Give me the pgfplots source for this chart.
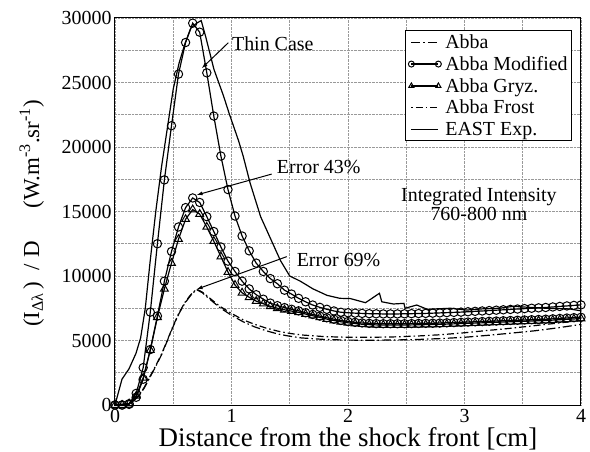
\documentclass[border=0pt]{standalone}
\usepackage{fontspec}
\setmainfont{Liberation Serif}
\usepackage{pgfplots}
\pgfplotsset{compat=1.18}
\usetikzlibrary{arrows.meta}

\begin{document}
\begin{tikzpicture}
\begin{axis}[
  scale only axis,
  width=466bp, height=387bp,
  xmin=0, xmax=4, ymin=0, ymax=30000,
  xtick={0,1,2,3,4},
  minor xtick={0.5,1.5,2.5,3.5},
  ytick={0,5000,10000,15000,20000,25000,30000},
  minor ytick={2500,7500,12500,17500,22500,27500},
  grid=both,
  major grid style={densely dotted, gray!80, line width=0.6bp},
  minor grid style={densely dotted, gray!80, line width=0.6bp},
  major tick length=0pt, minor tick length=0pt,
  axis line style={line width=1bp},
  scaled y ticks=false,
  /pgf/number format/assume math mode=true,
  /pgf/number format/1000 sep={},
  tick label style={font=\fontsize{20}{22}\selectfont},
  xticklabel style={yshift=-1bp},
  xlabel={Distance from the shock front [cm]},
  xlabel style={font=\fontsize{27}{29}\selectfont, at={(axis description cs:0.5,-0.107)}, anchor=base},
  ylabel={(I\textsubscript{Δλ}\,)\ \ /\ D\hspace{33bp}(W.m\textsuperscript{-3}.sr\textsuperscript{-1})},
  ylabel style={font=\fontsize{23}{25}\selectfont, at={(axis description cs:-0.163,0.495)}, anchor=base},
  clip=false,
  legend style={at={(axis description cs:0.981,0.969)}, anchor=north east,
    font=\fontsize{20}{21}\selectfont, draw=black, line width=1bp,
    inner sep=2bp, row sep=2.5bp, cells={anchor=west}},
  legend image code/.code={%
    \path[draw=none, fill=none] (0bp,-4bp) (36bp,4bp);
    \draw[#1] plot coordinates {(4bp,0bp) (31bp,0bp)};},
  legend image post style={mark size=3bp},
  every axis plot/.append style={line width=1.2bp},
]

% Abba
\addplot[black, dash pattern=on 9bp off 3bp on 1.5bp off 3bp] coordinates {
(0,0) (0.1,80) (0.15,250) (0.2,650) (0.25,1300) (0.3,2150) (0.35,3000) (0.4,3900)
(0.45,5000) (0.5,6100) (0.55,7100) (0.6,7900) (0.65,8500) (0.7,8950) (0.75,8700)
(0.8,8300) (0.9,7550) (1.0,6950) (1.1,6450) (1.2,6050) (1.3,5750) (1.4,5500)
(1.5,5330) (1.6,5200) (1.8,5080) (2.0,5030) (2.2,5020) (2.4,5040) (2.6,5080)
(2.8,5150) (3.0,5250) (3.2,5400) (3.4,5570) (3.6,5750) (3.8,5980) (4.0,6250)};
\addlegendentry{Abba}

% Abba Modified
\addplot[black, mark=o, mark size=4.2bp, mark options={solid, fill=white, line width=1bp}] coordinates {
(0,0) (0.061,0) (0.121,50) (0.182,600) (0.242,2000) (0.303,4300) (0.364,6900)
(0.424,9600) (0.485,11900) (0.545,13800) (0.606,15300) (0.667,16050) (0.727,15700)
(0.788,14600) (0.848,13450) (0.909,12250) (0.970,11150) (1.030,10350) (1.091,9600)
(1.152,9000) (1.212,8550) (1.273,8200) (1.333,7900) (1.394,7700) (1.455,7550)
(1.515,7420) (1.576,7300) (1.636,7150) (1.697,7020) (1.758,6890) (1.818,6760)
(1.879,6650) (1.939,6550) (2.000,6470) (2.061,6410) (2.121,6360) (2.182,6330)
(2.242,6310) (2.303,6300) (2.364,6300) (2.424,6300) (2.485,6300) (2.545,6310)
(2.606,6320) (2.667,6330) (2.727,6340) (2.788,6350) (2.848,6370) (2.909,6390)
(2.970,6410) (3.030,6430) (3.091,6450) (3.152,6470) (3.212,6490) (3.273,6510)
(3.333,6530) (3.394,6550) (3.455,6570) (3.515,6590) (3.576,6610) (3.636,6630)
(3.697,6650) (3.758,6680) (3.818,6710) (3.879,6740) (3.939,6770) (4.000,6800)};
\addlegendentry{Abba Modified}

% Abba Gryz.
\addplot[black, mark=triangle, mark size=4.5bp, mark options={solid, fill=white, line width=1bp}] coordinates {
(0,0) (0.061,0) (0.121,100) (0.182,700) (0.242,2100) (0.303,4250) (0.364,6800)
(0.424,9000) (0.485,11000) (0.545,12850) (0.606,14400) (0.667,15150) (0.727,14800)
(0.788,13800) (0.848,12700) (0.909,11500) (0.970,10300) (1.030,9300) (1.091,8700)
(1.152,8350) (1.212,8050) (1.273,7850) (1.333,7650) (1.394,7500) (1.455,7380)
(1.515,7280) (1.576,7180) (1.636,7050) (1.697,6920) (1.758,6790) (1.818,6660)
(1.879,6550) (1.939,6450) (2.000,6370) (2.061,6310) (2.121,6260) (2.182,6230)
(2.242,6210) (2.303,6200) (2.364,6200) (2.424,6200) (2.485,6200) (2.545,6210)
(2.606,6220) (2.667,6230) (2.727,6240) (2.788,6250) (2.848,6270) (2.909,6290)
(2.970,6310) (3.030,6330) (3.091,6350) (3.152,6370) (3.212,6390) (3.273,6410)
(3.333,6430) (3.394,6450) (3.455,6470) (3.515,6490) (3.576,6510) (3.636,6530)
(3.697,6550) (3.758,6580) (3.818,6610) (3.879,6640) (3.939,6670) (4.000,6700)};
\addlegendentry{Abba Gryz.}

% Abba Frost
\addplot[black, dash pattern=on 1.5bp off 3bp on 7bp off 3bp] coordinates {
(0,0) (0.1,100) (0.15,280) (0.2,700) (0.25,1350) (0.3,2200) (0.35,3050) (0.4,3950)
(0.45,5050) (0.5,6150) (0.55,7150) (0.6,7950) (0.65,8550) (0.7,8980) (0.75,8750)
(0.8,8380) (0.9,7650) (1.0,7100) (1.1,6600) (1.2,6250) (1.3,5950) (1.4,5720)
(1.5,5550) (1.6,5430) (1.8,5300) (2.0,5250) (2.2,5250) (2.4,5280) (2.6,5350)
(2.8,5450) (3.0,5600) (3.2,5780) (3.4,5950) (3.6,6150) (3.8,6350) (4.0,6550)};
\addlegendentry{Abba Frost}

% EAST Exp.
\addplot[black] coordinates {
(0,0) (0.03,1000) (0.06,2000) (0.12,2800) (0.18,4000) (0.22,5200) (0.26,7500)
(0.30,11000) (0.35,15000) (0.40,18500) (0.45,21500) (0.50,24500) (0.55,26500)
(0.60,28000) (0.65,29200) (0.70,29600) (0.74,29800) (0.78,28500) (0.85,26000)
(0.93,24000) (0.98,22600) (1.06,20500) (1.10,19300) (1.16,17200) (1.25,14600)
(1.33,13000) (1.42,11200) (1.50,10000) (1.59,9600) (1.70,9000) (1.82,8500)
(1.93,8270) (2.02,8250) (2.15,7930) (2.27,8660) (2.29,8000) (2.39,7830)
(2.48,7880) (2.49,7500) (2.59,7750) (2.68,7420) (2.88,7500) (3.02,7360)
(3.15,7450) (3.3,7500) (3.42,7650) (3.5,7600) (3.7,7500) (3.9,7450) (4.0,7300)};
\addlegendentry{EAST Exp.}

% Thin case
\addplot[black, mark=o, mark size=4.2bp, mark options={solid, fill=white, line width=1bp}, forget plot] coordinates {
(0,0) (0.061,0) (0.121,100) (0.182,900) (0.242,2900) (0.303,7200) (0.364,12500)
(0.424,17450) (0.485,21650) (0.545,25650) (0.606,28100) (0.667,29600) (0.727,28900)
(0.788,25750) (0.848,22400) (0.909,19300) (0.970,16700) (1.030,14650) (1.091,13100)
(1.152,11950) (1.212,11000) (1.273,10350) (1.333,9800) (1.394,9400) (1.455,8900)
(1.515,8600) (1.576,8270) (1.636,8000) (1.697,7750) (1.758,7570) (1.818,7420)
(1.879,7290) (1.939,7190) (2.000,7150) (2.061,7120) (2.121,7100) (2.182,7080)
(2.242,7070) (2.303,7060) (2.364,7060) (2.424,7060) (2.485,7070) (2.545,7080)
(2.606,7090) (2.667,7100) (2.727,7120) (2.788,7140) (2.848,7160) (2.909,7180)
(2.970,7200) (3.030,7230) (3.091,7260) (3.152,7290) (3.212,7320) (3.273,7350)
(3.333,7380) (3.394,7410) (3.455,7440) (3.515,7470) (3.576,7500) (3.636,7530)
(3.697,7560) (3.758,7600) (3.818,7640) (3.879,7680) (3.939,7720) (4.000,7760)};

% annotations
\draw[line width=1bp, -{Latex[length=6bp,width=4bp]}] (axis cs:0.973,28085) -- (axis cs:0.744,26100);
\node[anchor=west, font=\fontsize{20}{22}\selectfont] at (axis cs:0.975,28000) {Thin Case};
\draw[line width=1bp, -{Latex[length=6bp,width=4bp]}] (axis cs:1.345,17900) -- (axis cs:0.70,16280);
\node[anchor=west, font=\fontsize{20}{22}\selectfont] at (axis cs:1.36,18450) {Error 43\%};
\draw[line width=1bp, -{Latex[length=6bp,width=4bp]}] (axis cs:1.474,11500) -- (axis cs:0.70,8970);
\node[anchor=west, font=\fontsize{20}{22}\selectfont] at (axis cs:1.53,11240) {Error 69\%};
\node[align=center, font=\fontsize{20}{19}\selectfont] at (axis cs:3.124,15550) {Integrated Intensity\\760-800 nm};
\end{axis}
\pgfresetboundingbox
\path[use as bounding box] (current axis.south west) ++(-115bp,-47bp) rectangle ++(590bp,452bp);
\end{tikzpicture}
\end{document}
